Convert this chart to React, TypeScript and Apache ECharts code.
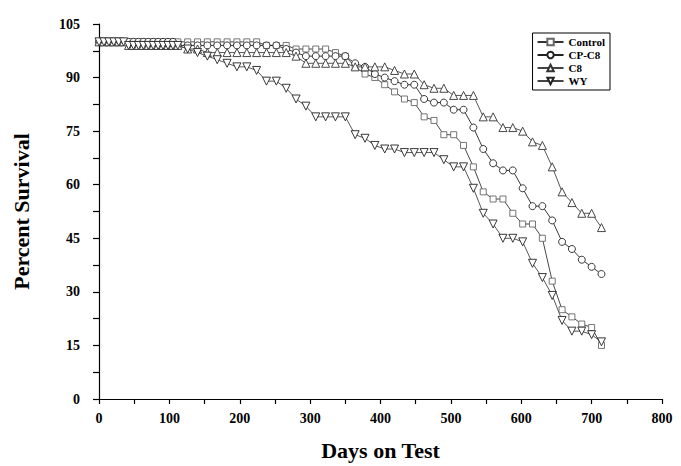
import React, { useEffect, useRef } from "react";
import * as echarts from "echarts";

const days = [
  0, 7, 14, 21, 28, 35, 42, 49, 56, 63, 70, 77, 84, 91, 98, 105,
  112, 126, 140, 154, 168, 182, 196, 210, 224, 238, 252, 266, 280, 294, 308, 322,
  336, 350, 364, 378, 392, 406, 420, 434, 448, 462, 476, 490, 504, 518, 532, 546,
  560, 574, 588, 602, 616, 630, 644, 658, 672, 686, 700, 714,
];

const control = [
  100, 100, 100, 100, 100, 100, 100, 100, 100, 100, 100, 100, 100, 100, 100, 100,
  100, 100, 100, 100, 100, 100, 100, 100, 100, 99, 99, 99, 98, 98, 98, 98,
  97, 96, 93, 91, 90, 88, 86, 84, 83, 79, 78, 74, 74, 71, 65, 58,
  56, 56, 52, 49, 49, 45, 33, 25, 23, 21, 20, 15,
];

const cpc8 = [
  100, 100, 100, 100, 100, 100, 100, 100, 100, 100, 100, 100, 100, 100, 100, 100,
  99, 99, 99, 99, 99, 99, 99, 99, 99, 99, 99, 98, 97, 96, 96, 96,
  96, 96, 94, 93, 91, 90, 89, 88, 88, 84, 83, 83, 81, 81, 76, 70,
  66, 64, 64, 59, 54, 54, 50, 44, 42, 39, 37, 35,
];

const c8 = [
  100, 100, 100, 100, 100, 100, 99, 99, 99, 99, 99, 99, 99, 99, 99, 99,
  99, 98, 98, 97, 97, 97, 97, 97, 97, 97, 97, 97, 96, 94, 94, 94,
  94, 94, 93, 93, 93, 93, 92, 91, 91, 88, 87, 87, 85, 85, 85, 79,
  79, 76, 76, 75, 72, 71, 65, 58, 55, 52, 52, 48,
];

const wy = [
  100, 100, 100, 100, 100, 100, 99, 99, 99, 99, 99, 99, 99, 99, 99, 99,
  99, 98, 97, 96, 95, 94, 93, 93, 92, 89, 89, 87, 84, 82, 79, 79,
  79, 79, 74, 73, 71, 70, 70, 69, 69, 69, 69, 67, 65, 65, 59, 52,
  49, 45, 45, 44, 38, 34, 29, 22, 19, 19, 18, 16,
];

const seriesNames = ["Control", "CP-C8", "C8", "WY"];

const FONT = "'Liberation Serif', 'Times New Roman', serif";

function pairs(vals: number[]) {
  return days.map((d, i) => [d, vals[i]]);
}

export default function App() {
  const ref = useRef<HTMLDivElement>(null);
  useEffect(() => {
    if (!ref.current) return;
    const chart = echarts.init(ref.current, undefined, { renderer: "svg" });
    const mk = (
      name: string,
      vals: number[],
      symbol: string,
      size: number,
      rotate: number,
      markerColor: string,
      lineColor: string
    ) => ({
      name,
      type: "line",
      data: pairs(vals),
      symbol,
      symbolSize: size,
      symbolRotate: rotate,
      showAllSymbol: true,
      lineStyle: { color: lineColor, width: 0.9 },
      itemStyle: { color: "#fff", borderColor: markerColor, borderWidth: 0.9 },
      emphasis: { disabled: true },
    });
    chart.setOption({
      animation: false,
      backgroundColor: "#fff",
      grid: { left: 99, right: 19, top: 24, bottom: 64, containLabel: false },
      legend: {
        data: seriesNames,
        orient: "vertical",
        right: 71,
        top: 33,
        borderColor: "#000",
        borderWidth: 1,
        padding: [3, 5, 3, 4],
        itemGap: 1,
        itemWidth: 26,
        itemHeight: 8,
        textStyle: { fontFamily: FONT, fontWeight: "bold", fontSize: 11, color: "#000", lineHeight: 12 },
      },
      xAxis: {
        type: "value",
        min: 0,
        max: 800,
        interval: 100,
        offset: 5,
        name: "Days on Test",
        nameLocation: "middle",
        nameGap: 35,
        nameTextStyle: { fontFamily: FONT, fontWeight: "bold", fontSize: 22, color: "#000" },
        axisLine: { show: true, lineStyle: { color: "#000", width: 1.2 } },
        axisTick: { show: true, inside: false, length: 5, lineStyle: { color: "#000", width: 1.2 } },
        minorTick: { show: true, splitNumber: 2, length: 5, lineStyle: { color: "#000", width: 1.2 } },
        splitLine: { show: false },
        axisLabel: { fontFamily: FONT, fontWeight: "bold", fontSize: 14, color: "#000", margin: 7 },
      },
      yAxis: {
        type: "value",
        min: 0,
        max: 105,
        interval: 15,
        offset: 10,
        name: "Percent Survival",
        nameLocation: "middle",
        nameGap: 57,
        nameTextStyle: { fontFamily: FONT, fontWeight: "bold", fontSize: 22, color: "#000" },
        axisLine: { show: true, lineStyle: { color: "#000", width: 1.2 } },
        axisTick: { show: true, inside: false, length: 6, lineStyle: { color: "#000", width: 1.2 } },
        minorTick: { show: true, splitNumber: 2, length: 6, lineStyle: { color: "#000", width: 1.2 } },
        splitLine: { show: false },
        axisLabel: { fontFamily: FONT, fontWeight: "bold", fontSize: 14, color: "#000", margin: 9 },
      },
      series: [
        mk("Control", control, "rect", 6, 0, "#666", "#333"),
        mk("CP-C8", cpc8, "circle", 7, 0, "#222", "#222"),
        mk("C8", c8, "triangle", 8, 0, "#333", "#444"),
        mk("WY", wy, "triangle", 8, 180, "#222", "#444"),
      ],
    });
    return () => chart.dispose();
  }, []);
  return (
    <div
      ref={ref}
      style={{ position: "fixed", left: 0, top: 0, width: 681, height: 466, background: "#fff" }}
    />
  );
}
